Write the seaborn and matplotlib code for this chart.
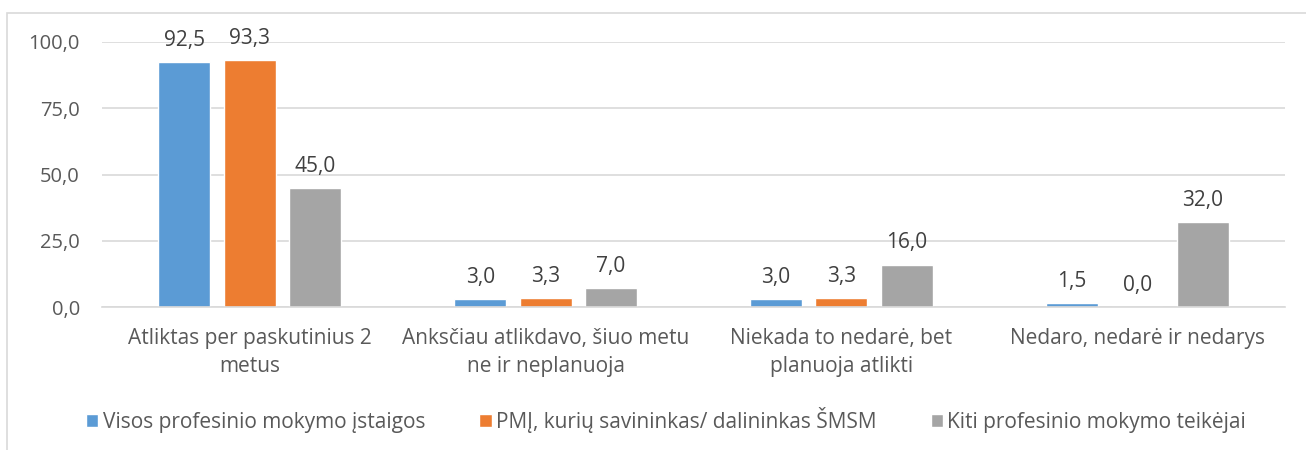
import pandas as pd
import matplotlib
matplotlib.use("Agg")
import matplotlib.pyplot as plt
import seaborn as sns
from matplotlib.patches import Rectangle

categories = [
    "Atliktas per paskutinius 2\nmetus",
    "Anksčiau atlikdavo, šiuo metu\nne ir neplanuoja",
    "Niekada to nedarė, bet\nplanuoja atlikti",
    "Nedaro, nedarė ir nedarys",
]
series_names = [
    "Visos profesinio mokymo įstaigos",
    "PMĮ, kurių savininkas/ dalininkas ŠMSM",
    "Kiti profesinio mokymo teikėjai",
]
visos = [92.5, 3.0, 3.0, 1.5]
pmj = [93.3, 3.3, 3.3, 0.0]
kiti = [45.0, 7.0, 16.0, 32.0]
colors = ["#5B9BD5", "#ED7D31", "#A5A5A5"]
yticks = [0, 25, 50, 75, 100]

rows = []
for name, vals in zip(series_names, [visos, pmj, kiti]):
    for cat, v in zip(categories, vals):
        rows.append({"cat": cat, "series": name, "value": v})
df = pd.DataFrame(rows)

sns.set_style("white")
plt.rcParams["font.family"] = ["Open Sans", "DejaVu Sans"]
txt = "#595959"

fig = plt.figure(figsize=(13.06, 4.5), dpi=100)
# chart frame like the Excel chart area
fig.patches.append(Rectangle((7 / 1306, -0.1), 1.2, 1 - 13 / 450 + 0.1,
                             transform=fig.transFigure, fill=False,
                             edgecolor="#D9D9D9", linewidth=1.2))
ax = fig.add_axes([102 / 1306, 1 - 307 / 450, 1183 / 1306, 265 / 450])

sns.barplot(data=df, x="cat", y="value", hue="series", palette=colors,
            width=0.664, ax=ax, legend=True, saturation=1)

# leave small gaps between bars within a group
for p in ax.patches:
    w = p.get_width()
    if w == 0:
        continue
    nw = w * 0.794
    p.set_x(p.get_x() + (w - nw) / 2)
    p.set_width(nw)

for cont in ax.containers:
    labels = [f"{v:.1f}".replace(".", ",") for v in cont.datavalues]
    ax.bar_label(cont, labels=labels, padding=8, fontsize=15, color="#404040")

ax.set_ylim(0, 100)
ax.set_xlim(-0.5, 3.5)
ax.set_yticks(yticks)
ax.set_yticklabels([f"{t:.1f}".replace(".", ",") for t in yticks])
ax.yaxis.grid(True, color="#D9D9D9", linewidth=1.2)
ax.set_axisbelow(True)
for s in ["top", "right", "left"]:
    ax.spines[s].set_visible(False)
ax.spines["bottom"].set_color("#D9D9D9")
ax.spines["bottom"].set_linewidth(1.2)
ax.tick_params(axis="y", length=0, labelsize=14.5, colors=txt, pad=16)
ax.tick_params(axis="x", length=0, labelsize=15, colors=txt, pad=15)
for t in ax.get_xticklabels():
    t.set_linespacing(1.45)
ax.set_xlabel("")
ax.set_ylabel("")

handles, labs = ax.get_legend_handles_labels()
ax.legend(handles, labs, loc="center", bbox_to_anchor=(666 / 1306, 1 - 420 / 450),
          bbox_transform=fig.transFigure, ncol=3, frameon=False, fontsize=15,
          labelcolor=txt, handlelength=0.6, handleheight=0.6, handletextpad=0.2,
          columnspacing=2.6)

fig.savefig("out.png", dpi=100)
